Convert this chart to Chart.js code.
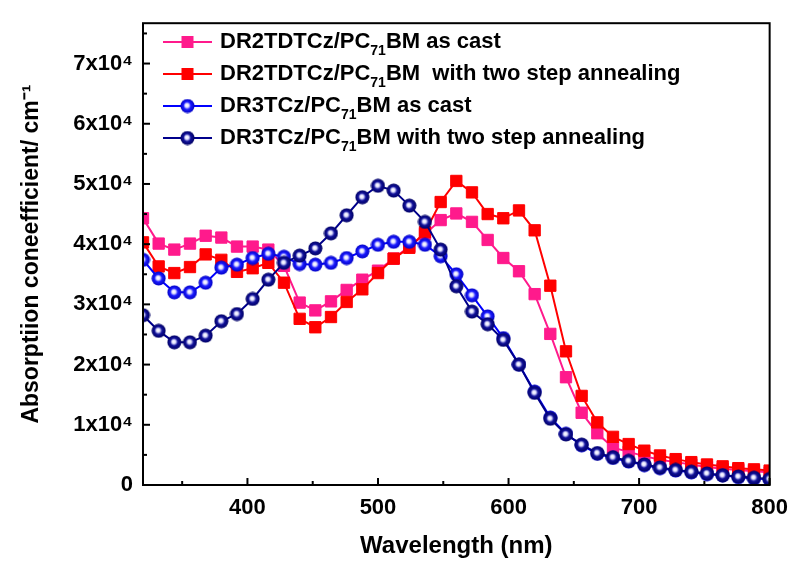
<!DOCTYPE html>
<html>
<head>
<meta charset="utf-8">
<script src="https://cdn.jsdelivr.net/npm/chart.js@4.4.0/dist/chart.umd.min.js"></script>
<style>
  html, body { margin: 0; padding: 0; background: #fff; }
</style>
</head>
<body>
<canvas id="myChart" width="798" height="563"></canvas>
<script>
// Longitudes de onda (nm), un punto cada 12 nm
var wavelengths = [320, 332, 344, 356, 368, 380, 392, 404, 416, 428, 440, 452, 464, 476, 488, 500, 512, 524, 536, 548,
  560, 572, 584, 596, 608, 620, 632, 644, 656, 668, 680, 692, 704, 716, 728, 740, 752, 764, 776, 788, 800];

// Coeficiente de absorción (cm^-1)
var dr2Cast = [44300, 40100, 39100, 40100, 41400, 41100, 39600, 39600, 39100, 36400, 30300, 29000, 30500, 32400, 34100, 35600, 37600, 39600, 41700, 44000,
  45100, 43700, 40700, 37700, 35500, 31700, 25100, 17900, 12000, 8600, 6200, 5500, 4800, 4200, 3800, 3400, 3000, 2700, 2500, 2300, 2100];
var dr2Anneal = [40300, 36300, 35200, 36200, 38300, 37400, 35400, 36000, 36900, 33600, 27600, 26200, 27900, 30400, 32500, 35200, 37600, 39400, 42000, 47000,
  50500, 48600, 45000, 44300, 45600, 42300, 33100, 22200, 14800, 10400, 8000, 6800, 5700, 4900, 4300, 3800, 3400, 3100, 2800, 2600, 2400];
var dr3Cast = [37400, 34300, 32000, 32000, 33600, 36100, 36600, 37700, 38400, 37900, 36700, 36600, 36900, 37700, 38800, 39900, 40400, 40400, 39900, 38000,
  35000, 31500, 28000, 24400, 20000, 15500, 11200, 8500, 6600, 5200, 4500, 3900, 3300, 2800, 2400, 2100, 1800, 1600, 1300, 1100, 900];
var dr3Anneal = [28200, 25600, 23700, 23700, 24800, 27200, 28400, 30900, 34100, 36900, 38100, 39300, 41800, 44800, 47800, 49700, 48900, 46400, 43700, 39100,
  33000, 28800, 26700, 24100, 20000, 15300, 11000, 8400, 6700, 5300, 4600, 4000, 3400, 2900, 2500, 2200, 1900, 1600, 1400, 1200, 1000];

// marcas de los ejes
var xTickValues = [350, 400, 450, 500, 550, 600, 650, 700, 750, 800];
var yTickValues = [0, 5000, 10000, 15000, 20000, 25000, 30000, 35000, 40000, 45000, 50000, 55000, 60000, 65000, 70000, 75000];

var seriesNames = ['DR2TDTCz/PC|71|BM as cast', 'DR2TDTCz/PC|71|BM  with two step annealing',
  'DR3TCz/PC|71|BM as cast', 'DR3TCz/PC|71|BM with two step annealing'];
var seriesColors = ['#FF1A8C', '#FF0000', '#0000FF', '#00008B'];

var FONT = '"Liberation Sans", Arial, sans-serif';

// bolita con brillo para los marcadores circulares
function makeBall(base, edge) {
  var c = document.createElement('canvas');
  c.width = 15; c.height = 15;
  var g = c.getContext('2d');
  var grad = g.createRadialGradient(6.8, 6.8, 0.3, 7.5, 7.5, 7.3);
  grad.addColorStop(0, '#ffffff');
  grad.addColorStop(0.22, '#e0e0ff');
  grad.addColorStop(0.5, base);
  grad.addColorStop(1, edge);
  g.fillStyle = grad;
  g.beginPath();
  g.arc(7.5, 7.5, 7, 0, Math.PI * 2);
  g.fill();
  return c;
}
var blueBall = makeBall('#1a1aff', '#0000c0');
var navyBall = makeBall('#10109a', '#000060');
var markers = ['rect', 'rect', blueBall, navyBall];

function toPoints(arr) {
  return arr.map(function (v, i) { return { x: wavelengths[i], y: v }; });
}

var allSeries = [dr2Cast, dr2Anneal, dr3Cast, dr3Anneal];
var datasets = allSeries.map(function (arr, i) {
  return {
    label: seriesNames[i].replace(/\|/g, ''),
    data: toPoints(arr),
    borderColor: seriesColors[i],
    backgroundColor: seriesColors[i],
    borderWidth: 2,
    pointStyle: markers[i],
    pointRadius: i < 2 ? 8 : 7,
    pointBorderWidth: 1,
    pointBorderColor: seriesColors[i],
    pointBackgroundColor: seriesColors[i],
    tension: 0,
    clip: 0,
    order: 4 - i
  };
});

// marco y marcas hacia adentro
var frameTicks = {
  id: 'frameTicks',
  afterDatasetsDraw: function (chart) {
    var ctx = chart.ctx, a = chart.chartArea;
    var xs = chart.scales.x, ys = chart.scales.y;
    ctx.save();
    ctx.strokeStyle = '#000';
    ctx.lineWidth = 2;
    xs.ticks.forEach(function (t) {
      var px = xs.getPixelForValue(t.value);
      var len = t.value % 100 === 0 ? 7 : 4;
      ctx.beginPath(); ctx.moveTo(px, a.bottom); ctx.lineTo(px, a.bottom - len); ctx.stroke();
    });
    ys.ticks.forEach(function (t) {
      var py = ys.getPixelForValue(t.value);
      var len = t.value % 10000 === 0 ? 7 : 4;
      ctx.beginPath(); ctx.moveTo(a.left, py); ctx.lineTo(a.left + len, py); ctx.stroke();
    });
    ctx.strokeRect(a.left, a.top, a.right - a.left, a.bottom - a.top);
    ctx.restore();
  }
};

// leyenda dentro del gráfico, con subíndice
var insideLegend = {
  id: 'insideLegend',
  afterDraw: function (chart) {
    var ctx = chart.ctx;
    var x0 = 163, x1 = 212, y0 = 42, dy = 32;
    ctx.save();
    seriesNames.forEach(function (name, i) {
      var y = y0 + i * dy;
      ctx.strokeStyle = seriesColors[i];
      ctx.lineWidth = 2;
      ctx.beginPath(); ctx.moveTo(x0, y); ctx.lineTo(x1, y); ctx.stroke();
      var cx = (x0 + x1) / 2;
      if (markers[i] === 'rect') {
        ctx.fillStyle = seriesColors[i];
        ctx.fillRect(cx - 6, y - 6, 12, 12);
      } else {
        ctx.drawImage(markers[i], cx - 7.5, y - 7.5);
      }
      var parts = name.split('|');
      var tx = 220;
      ctx.fillStyle = '#000';
      ctx.textBaseline = 'middle';
      ctx.font = 'bold 22px ' + FONT;
      ctx.fillText(parts[0], tx, y);
      tx += ctx.measureText(parts[0]).width;
      ctx.font = 'bold 14px ' + FONT;
      ctx.fillText(parts[1], tx, y + 9);
      tx += ctx.measureText(parts[1]).width;
      ctx.font = 'bold 22px ' + FONT;
      ctx.fillText(parts[2], tx, y);
    });
    ctx.restore();
  }
};

var ctx = document.getElementById('myChart').getContext('2d');
var myChart = new Chart(ctx, {
  type: 'line',
  data: { datasets: datasets },
  options: {
    responsive: false,
    animation: false,
    devicePixelRatio: 1,
    layout: { padding: { left: 0, right: 23, top: 17, bottom: 0 } },
    plugins: { legend: { display: false }, tooltip: { enabled: false } },
    scales: {
      x: {
        type: 'linear',
        position: 'bottom',
        min: 320,
        max: 800,
        grid: { display: false, drawTicks: false },
        border: { display: false },
        afterBuildTicks: function (s) {
          s.ticks = xTickValues.map(function (v) { return { value: v }; });
        },
        ticks: {
          autoSkip: false,
          maxRotation: 0,
          padding: 10,
          color: '#000',
          font: { family: FONT, size: 22, weight: 'bold' },
          callback: function (v) { return v % 100 === 0 ? String(v) : ''; }
        },
        title: {
          display: true,
          text: 'Wavelength (nm)',
          color: '#000',
          font: { family: FONT, size: 24, weight: 'bold' },
          padding: { top: 0, bottom: 2 }
        },
        afterFit: function (s) { s.height = 78; }
      },
      y: {
        type: 'linear',
        min: 0,
        max: 76700,
        grid: { display: false, drawTicks: false },
        border: { display: false },
        afterBuildTicks: function (s) {
          s.ticks = yTickValues.map(function (v) { return { value: v }; });
        },
        ticks: {
          autoSkip: false,
          padding: 10,
          color: '#000',
          font: { family: FONT, size: 22, weight: 'bold' },
          callback: function (v) {
            if (v === 0) return '0';
            return v % 10000 === 0 ? (v / 10000) + 'x10\u2074' : '';
          }
        },
        title: {
          display: true,
          text: 'Absorptiion coneefficient/ cm\u207B\u00B9',
          color: '#000',
          font: { family: FONT, size: 23, weight: 'bold' },
          padding: { top: 18, bottom: 0 }
        },
        afterFit: function (s) { s.width = 143; }
      }
    }
  },
  plugins: [frameTicks, insideLegend]
});
</script>
</body>
</html>
